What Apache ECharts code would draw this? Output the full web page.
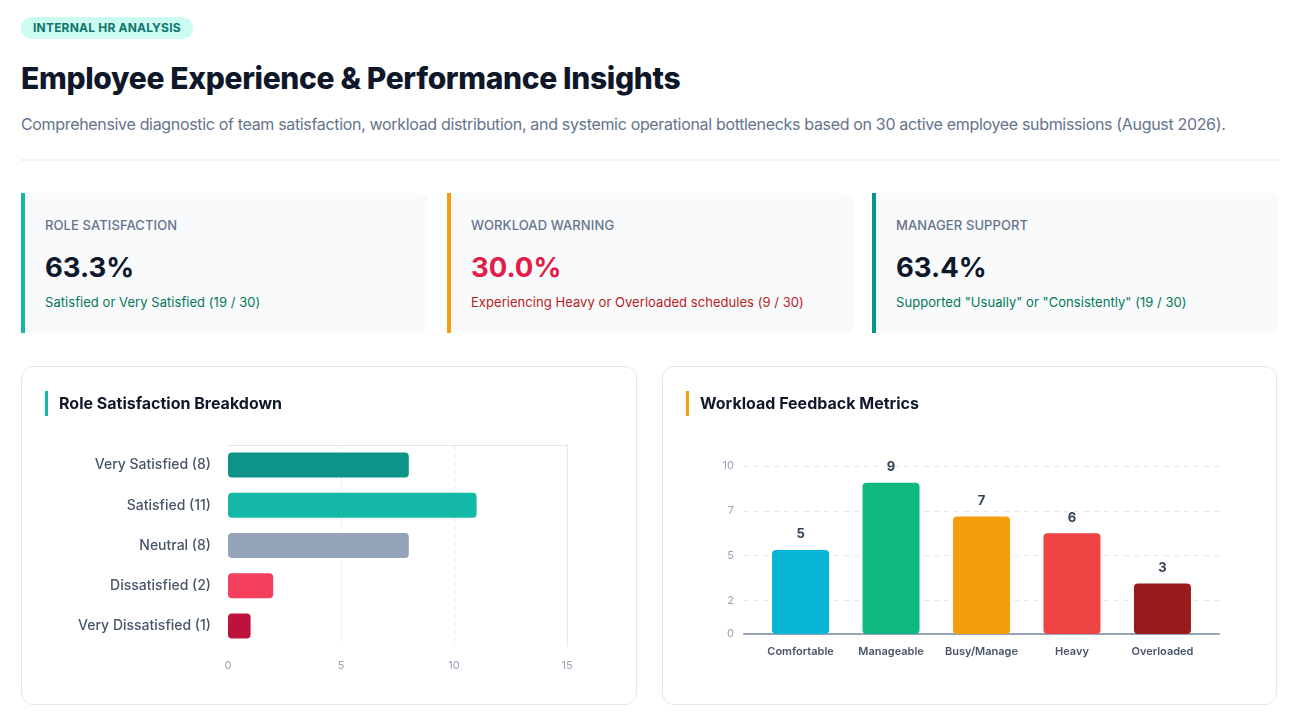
<!DOCTYPE html>
<html>
<head>
<meta charset="utf-8">
<title>Employee Experience & Performance Insights</title>
<script src="https://cdn.jsdelivr.net/npm/echarts@6/dist/echarts.min.js"></script>
<style>
  body { margin: 0; background: #fff; font-family: Inter, "Noto Sans", sans-serif; color: #0f172a; }
  .page { position: relative; width: 1301px; height: 722px; overflow: hidden; }
  .badge { position: absolute; left: 21px; top: 17px; height: 22px; line-height: 22px; padding: 0 12px;
           border-radius: 11px; background: #ccfbf1; color: #0f766e; font-size: 12px; font-weight: 700; letter-spacing: 0.2px; }
  h1 { position: absolute; left: 21px; top: 58px; margin: 0; font-size: 30px; line-height: 40px; font-weight: 800; letter-spacing: -0.35px; }
  .sub { position: absolute; left: 21px; top: 113px; margin: 0; font-size: 16px; line-height: 22px; color: #64748b; letter-spacing: -0.33px; }
  .rule { position: absolute; left: 21px; top: 159px; width: 1257px; height: 2px; background: #eef2f6; }
  .kpi { position: absolute; top: 193px; width: 403px; height: 140px; background: #f8fafc;
         border-left: 4px solid; border-radius: 0 8px 8px 0; }
  .kpi .lbl { position: absolute; left: 20px; top: 24px; font-size: 13px; font-weight: 500; color: #64748b; letter-spacing: 0.1px; }
  .kpi .val { position: absolute; left: 20px; top: 55px; font-size: 27.5px; line-height: 38px; font-weight: 700; }
  .kpi .note { position: absolute; left: 20px; top: 101px; font-size: 13px; letter-spacing: 0.05px; }
  .card { position: absolute; top: 366px; height: 337px; border: 1px solid #e2e8f0; border-radius: 12px; background: #fff; }
  .card .title { position: absolute; left: 23px; top: 24px; height: 25px; border-left: 3px solid; padding-left: 11px;
                 font-size: 16px; line-height: 25px; font-weight: 700; color: #0f172a; }
  .chart { position: absolute; left: 0; top: 0; width: 100%; height: 100%; }
</style>
</head>
<body>
<div class="page">
  <div class="badge">INTERNAL HR ANALYSIS</div>
  <h1>Employee Experience &amp; Performance Insights</h1>
  <p class="sub">Comprehensive diagnostic of team satisfaction, workload distribution, and systemic operational bottlenecks based on 30 active employee submissions (August 2026).</p>
  <div class="rule"></div>

  <div class="kpi" style="left:21px;border-color:#14b8a6">
    <div class="lbl">ROLE SATISFACTION</div>
    <div class="val" style="color:#0f172a">63.3%</div>
    <div class="note" style="color:#047857">Satisfied or Very Satisfied (19 / 30)</div>
  </div>
  <div class="kpi" style="left:447px;border-color:#f59e0b">
    <div class="lbl">WORKLOAD WARNING</div>
    <div class="val" style="color:#e11d48">30.0%</div>
    <div class="note" style="color:#b91c1c">Experiencing Heavy or Overloaded schedules (9 / 30)</div>
  </div>
  <div class="kpi" style="left:872px;border-color:#0d9488">
    <div class="lbl">MANAGER SUPPORT</div>
    <div class="val" style="color:#0f172a">63.4%</div>
    <div class="note" style="color:#047857">Supported "Usually" or "Consistently" (19 / 30)</div>
  </div>

  <div class="card" style="left:21px;width:614px">
    <div class="chart" id="satChart"></div>
    <div class="title" style="border-color:#14b8a6">Role Satisfaction Breakdown</div>
  </div>
  <div class="card" style="left:662px;width:613px">
    <div class="chart" id="loadChart"></div>
    <div class="title" style="border-color:#f59e0b">Workload Feedback Metrics</div>
  </div>
</div>

<script>
// 满意度数据
var satCategories = ["Very Satisfied (8)", "Satisfied (11)", "Neutral (8)", "Dissatisfied (2)", "Very Dissatisfied (1)"];
var satValues = [8, 11, 8, 2, 1];
var satColors = ["#0d9488", "#14b8a6", "#94a3b8", "#f43f5e", "#be123c"];
var satTicks = [0, 5, 10, 15];

// 工作量数据
var loadCategories = ["Comfortable", "Manageable", "Busy/Manage", "Heavy", "Overloaded"];
var loadValues = [5, 9, 7, 6, 3];
var loadColors = ["#06b6d4", "#10b981", "#f59e0b", "#ef4444", "#991b1b"];
var loadTickValues = [0, 2, 4.667, 7.333, 10];
var loadTickLabels = ["0", "2", "5", "7", "10"];

var gridLine = "#e2e8f0";

//横向柱状图
(function(){
    var myChart = echarts.init(document.getElementById("satChart"));
    var option = {
        animation: false,
        grid: { left: 206, right: 69, top: 78, height: 201 },
        xAxis: [
          {
            type: "value",
            min: satTicks[0],
            max: satTicks[satTicks.length - 1],
            interval: satTicks[1] - satTicks[0],
            axisLine: { show: false },
            axisTick: { show: false },
            axisLabel: { color: "#94a3b8", fontSize: 11, margin: 14, fontFamily: "Inter" },
            splitLine: {
              show: true, showMinLine: false, showMaxLine: false,
              lineStyle: { color: gridLine, type: [4, 4] }
            }
          },
          {
            //顶部边线
            type: "value",
            position: "top",
            min: 0, max: 15,
            axisLine: { show: true, onZero: false, lineStyle: { color: gridLine } },
            axisTick: { show: false },
            axisLabel: { show: false },
            splitLine: { show: false }
          }
        ],
        yAxis: [
          {
            type: "category",
            inverse: true,
            data: satCategories,
            axisLine: { show: false },
            axisTick: { show: false },
            axisLabel: { color: "#475569", fontSize: 14, fontWeight: 500, margin: 17, fontFamily: "Inter" }
          },
          {
            //右侧边线
            type: "value",
            position: "right",
            axisLine: { show: true, onZero: false, lineStyle: { color: gridLine } },
            axisTick: { show: false },
            axisLabel: { show: false },
            splitLine: { show: false }
          }
        ],
        series: [
          {
            type: "bar",
            barWidth: 25,
            data: satValues.map(function (v, i) {
              return { value: v, itemStyle: { color: satColors[i] } };
            }),
            itemStyle: { borderRadius: 4 }
          }
        ]
    };
    myChart.setOption(option);
    window.addEventListener('resize', function(){ myChart.resize(); });
})();

//纵向柱状图
(function(){
    var myChart = echarts.init(document.getElementById("loadChart"));
    var option = {
        animation: false,
        grid: { left: 81, right: 57, top: 99, bottom: 70 },
        xAxis: {
            //用数值轴让轴线比柱子区域更宽
            type: "value",
            min: -0.625,
            max: loadCategories.length - 1 + 0.625,
            axisLine: { show: true, lineStyle: { color: "#94a3b8", width: 2 } },
            axisTick: { show: false },
            splitLine: { show: false },
            axisLabel: {
              customValues: loadCategories.map(function (c, i) { return i; }),
              formatter: function (v) { return loadCategories[Math.round(v)]; },
              color: "#475569", fontSize: 11, fontWeight: 600, margin: 12, fontFamily: "Inter"
            }
        },
        yAxis: {
            type: "value",
            min: 0,
            max: 10,
            axisLine: { show: false, onZero: false },
            axisTick: { show: false, customValues: loadTickValues },
            axisLabel: {
              customValues: loadTickValues,
              formatter: function (v) { return loadTickLabels[loadTickValues.indexOf(v)]; },
              color: "#94a3b8", fontSize: 11, margin: 10, fontFamily: "Inter"
            },
            splitLine: { lineStyle: { color: gridLine, type: [5, 5] } }
        },
        series: [
          {
            type: "bar",
            barWidth: 57,
            data: loadValues.map(function (v, i) {
              return { value: [i, v], itemStyle: { color: loadColors[i] } };
            }),
            itemStyle: { borderRadius: 4 },
            label: {
              show: true, position: "top", distance: 9,
              formatter: function (p) { return p.value[1]; },
              color: "#334155", fontSize: 13, fontWeight: 700, fontFamily: "Inter"
            }
          }
        ]
    };
    myChart.setOption(option);
    window.addEventListener('resize', function(){ myChart.resize(); });
})();
</script>
</body>
</html>
